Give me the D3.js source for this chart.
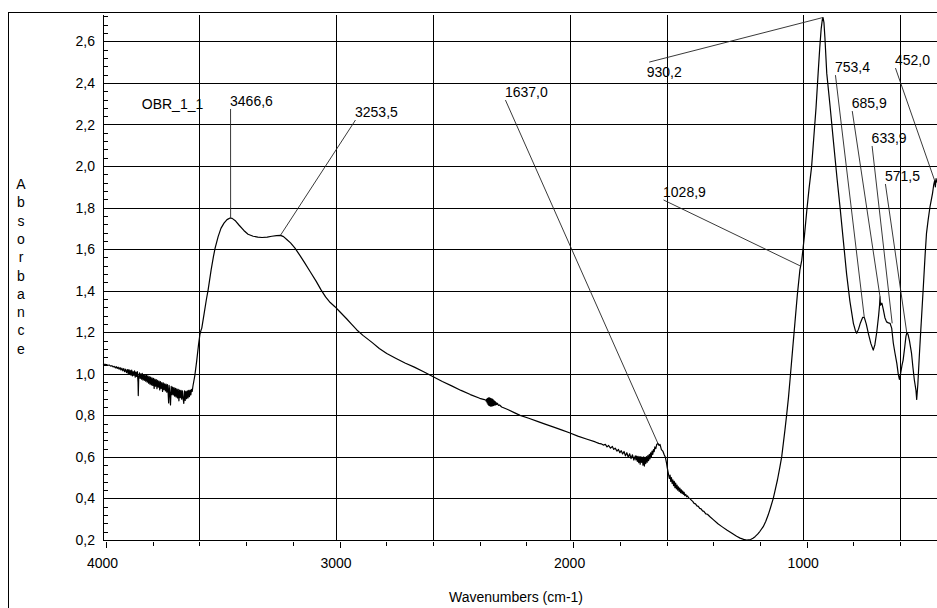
<!DOCTYPE html>
<html>
<head>
<meta charset="utf-8">
<script src="https://cdn.jsdelivr.net/npm/d3@7"></script>
<style>
body{margin:0;background:#fff;}
svg{display:block;}
text{font-family:Arial,"Liberation Sans",sans-serif;fill:#000;}
</style>
</head>
<body>
<div id="container"></div>
<script>
// spectrum: [wavenumber, absorbance]
const spectrum = [
[4013,1.048],[4005,1.045],[3998,1.044],[3992,1.041],[3986,1.042],[3980,1.037],[3975,1.039],[3970,1.033],
[3965,1.036],[3960,1.029],[3956,1.034],[3952,1.026],[3948,1.032],[3944,1.022],[3940,1.030],[3936,1.018],
[3932,1.027],[3928,1.014],[3924,1.025],[3920,1.010],[3916,1.022],[3912,1.006],[3908,1.020],[3905,1.000],
[3902,1.020],[3899,0.998],[3896,1.016],[3893,0.994],[3890,1.018],[3887,0.990],[3884,1.010],[3881,0.992],
[3878,1.014],[3875,0.984],[3872,1.008],[3869,0.988],[3866,1.010],[3863,0.960],[3862,0.895],[3860,0.985],
[3857,1.004],[3854,0.978],[3851,1.000],[3848,0.974],[3845,1.002],[3842,0.970],[3839,0.996],[3836,0.968],
[3833,0.994],[3830,0.964],[3827,0.992],[3824,0.960],[3821,0.990],[3818,0.955],[3815,0.986],[3812,0.950],
[3809,0.984],[3806,0.946],[3803,0.980],[3800,0.944],[3797,0.978],[3794,0.930],[3791,0.975],[3788,0.940],
[3785,0.972],[3782,0.928],[3779,0.968],[3776,0.936],[3773,0.965],[3770,0.922],[3767,0.962],[3764,0.930],
[3761,0.958],[3758,0.915],[3755,0.956],[3752,0.924],[3749,0.952],[3746,0.918],[3743,0.950],[3740,0.912],
[3737,0.948],[3734,0.905],[3732,0.860],[3730,0.944],[3727,0.908],[3724,0.850],[3721,0.940],[3718,0.900],
[3715,0.936],[3712,0.898],[3709,0.934],[3706,0.892],[3703,0.930],[3700,0.888],[3697,0.928],[3694,0.884],
[3691,0.925],[3688,0.870],[3685,0.922],[3682,0.885],[3679,0.920],[3676,0.878],[3673,0.918],[3670,0.880],
[3667,0.858],[3664,0.918],[3661,0.872],[3658,0.916],[3655,0.880],[3652,0.918],[3649,0.884],[3646,0.920],
[3643,0.890],[3640,0.922],[3637,0.898],[3634,0.925],[3631,0.915],[3628,0.940],[3620,0.990],[3612,1.060],
[3604,1.140],[3598,1.190],[3593,1.211],[3590,1.220],[3580,1.290],[3570,1.360],[3563,1.403],[3550,1.500],
[3540,1.565],[3533,1.605],[3520,1.660],[3508,1.700],[3495,1.725],[3482,1.742],[3469,1.750],[3460,1.748],
[3445,1.735],[3430,1.715],[3410,1.690],[3392,1.672],[3370,1.662],[3350,1.658],[3332,1.656],[3310,1.658],
[3290,1.662],[3270,1.665],[3253,1.666],[3240,1.660],[3225,1.645],[3210,1.630],[3191,1.605],[3170,1.570],
[3150,1.535],[3125,1.490],[3100,1.445],[3080,1.405],[3060,1.370],[3040,1.343],[3020,1.323],[3000,1.300],
[2970,1.265],[2950,1.240],[2926,1.211],[2900,1.185],[2860,1.150],[2830,1.122],[2798,1.098],[2760,1.075],
[2720,1.052],[2680,1.032],[2640,1.010],[2599,0.986],[2560,0.963],[2520,0.942],[2480,0.920],[2440,0.900],
[2400,0.882],[2380,0.876],[2374,0.874],[2372,0.868],[2370,0.878],[2368,0.860],[2366,0.882],[2364,0.852],
[2362,0.884],[2360,0.848],[2358,0.884],[2356,0.846],[2354,0.882],[2352,0.844],[2350,0.880],[2348,0.846],
[2346,0.878],[2344,0.846],[2342,0.874],[2340,0.848],[2338,0.870],[2336,0.850],[2334,0.866],[2332,0.850],
[2330,0.862],[2327,0.852],[2324,0.858],[2320,0.848],[2315,0.850],[2306,0.840],[2280,0.828],[2250,0.812],
[2227,0.800],[2190,0.786],[2150,0.770],[2120,0.758],[2080,0.742],[2050,0.730],[2016,0.716],[1980,0.700],
[1940,0.685],[1905,0.672],[1890,0.665],[1880,0.663],[1871,0.657],[1862,0.660],[1855,0.648],[1848,0.655],
[1840,0.642],[1832,0.650],[1826,0.636],[1820,0.642],[1812,0.628],[1806,0.636],[1800,0.620],[1794,0.630],
[1788,0.614],[1782,0.626],[1776,0.605],[1770,0.620],[1764,0.598],[1758,0.615],[1752,0.592],[1746,0.610],
[1740,0.585],[1734,0.605],[1731,0.585],[1728,0.604],[1725,0.578],[1722,0.603],[1719,0.572],[1716,0.600],
[1713,0.565],[1710,0.602],[1707,0.574],[1704,0.598],[1701,0.560],[1698,0.600],[1695,0.556],[1692,0.598],
[1689,0.568],[1686,0.602],[1683,0.574],[1680,0.606],[1677,0.582],[1674,0.612],[1671,0.590],[1668,0.620],
[1665,0.600],[1662,0.628],[1659,0.612],[1656,0.635],[1653,0.625],[1650,0.648],[1646,0.640],[1642,0.660],
[1637,0.665],[1632,0.655],[1628,0.660],[1622,0.635],[1616,0.628],[1610,0.610],[1605,0.598],[1600,0.570],
[1597,0.548],[1594,0.530],[1591,0.512],[1588,0.496],[1585,0.512],[1582,0.482],[1579,0.500],[1576,0.472],
[1573,0.490],[1570,0.462],[1567,0.482],[1564,0.452],[1561,0.474],[1558,0.446],[1555,0.464],[1552,0.440],
[1549,0.456],[1546,0.434],[1543,0.450],[1540,0.428],[1537,0.442],[1534,0.424],[1531,0.436],[1528,0.420],
[1525,0.430],[1522,0.414],[1518,0.420],[1514,0.408],[1510,0.412],[1505,0.402],[1500,0.400],[1494,0.392],
[1488,0.386],[1482,0.376],[1476,0.374],[1470,0.364],[1464,0.362],[1458,0.352],[1452,0.350],[1446,0.340],
[1440,0.338],[1432,0.326],[1425,0.324],[1414,0.312],[1400,0.298],[1380,0.278],[1360,0.262],[1342,0.248],
[1320,0.232],[1300,0.218],[1285,0.209],[1270,0.203],[1257,0.200],[1240,0.202],[1230,0.208],[1221,0.216],
[1210,0.228],[1200,0.242],[1186,0.264],[1175,0.290],[1165,0.320],[1155,0.355],[1143,0.400],[1135,0.440],
[1125,0.490],[1115,0.550],[1107,0.600],[1100,0.665],[1093,0.730],[1086,0.800],[1078,0.885],[1071,0.975],
[1060,1.120],[1050,1.250],[1040,1.380],[1029,1.500],[1021,1.547],[1010,1.660],[1000,1.780],[990,1.890],
[979,1.996],[970,2.130],[960,2.280],[951,2.446],[944,2.570],[938,2.660],[933,2.705],[930,2.715],
[926,2.690],[922,2.620],[914,2.446],[900,2.290],[886,2.125],[870,1.940],[857,1.800],[843,1.640],
[829,1.480],[815,1.350],[800,1.243],[792,1.210],[786,1.195],[778,1.215],[770,1.245],[760,1.272],
[753,1.270],[745,1.240],[735,1.190],[725,1.145],[715,1.114],[708,1.140],[700,1.200],[692,1.280],
[688,1.330],[686,1.370],[684,1.330],[678,1.340],[672,1.310],[665,1.270],[658,1.250],[650,1.245],
[643,1.243],[636,1.220],[629,1.147],[622,1.100],[614,1.050],[608,1.000],[603,0.973],[598,1.000],
[592,1.040],[587,1.066],[580,1.130],[575,1.180],[571,1.198],[566,1.190],[560,1.160],[551,1.098],
[545,1.030],[539,0.970],[532,0.920],[529,0.877],[524,0.950],[518,1.080],[513,1.180],[508,1.275],
[500,1.430],[493,1.570],[487,1.676],[480,1.740],[472,1.804],[466,1.840],[461,1.870],[456,1.910],
[452,1.930],[449,1.900],[446,1.940],[443,1.920]
];

// peak annotations
const peakLabels = ["3466,6","3253,5","1637,0","1028,9","930,2","753,4","685,9","633,9","571,5","452,0"];
const peakWave = [3466.6, 3253.5, 1637.0, 1028.9, 930.2, 753.4, 685.9, 633.9, 571.5, 452.0];
const peakAbs = [1.75, 1.666, 0.665, 1.52, 2.715, 1.272, 1.37, 1.243, 1.198, 1.93];
// where each label sits, in data units (wavenumber, absorbance)
const labelWave = [3469, 2934, 2292, 1615, 1685, 879, 807, 722, 665, 622];
const labelAbs = [2.289, 2.236, 2.332, 1.851, 2.428, 2.452, 2.279, 2.111, 1.928, 2.486];
const leaderFromTop = [false, false, false, false, true, false, false, false, false, false];

const sampleName = "OBR_1_1";
const sampleAt = [3847, 2.274];

// axes
const xTicks = d3.range(4000, 500, -200);
const xTickLabels = [4000, 3000, 2000, 1000];
const xGrid = [3600, 3015, 2600, 2015, 1600, 1015, 600];
const yTicks = d3.range(0.2, 2.61, 0.2);
const yMinor = d3.range(0.2, 2.73, 0.04);
const yTitle = "Absorbance";
const xTitle = "Wavenumbers (cm-1)";

const width = 937, height = 608;

const svg = d3.select("#container").append("svg")
  .attr("width", width)
  .attr("height", height);

const x = d3.scaleLinear().domain([4013, 442]).range([103, 937]);
const y = d3.scaleLinear().domain([0.2, 2.727]).range([540, 15]);
const fmt = v => d3.format(".1f")(v).replace(".", ",");

// outer frame
svg.append("rect")
  .attr("x", 8.5).attr("y", 12.5)
  .attr("width", 950).attr("height", 620)
  .attr("fill", "none").attr("stroke", "#000");

const grid = svg.append("g").attr("stroke", "#000").attr("stroke-width", 1).attr("shape-rendering", "crispEdges");

grid.selectAll(".hg").data(yTicks.slice(1))
  .join("line")
  .attr("x1", x.range()[0]).attr("x2", x.range()[1])
  .attr("y1", d => Math.round(y(d)) + 0.5).attr("y2", d => Math.round(y(d)) + 0.5);

grid.selectAll(".vg").data(xGrid)
  .join("line")
  .attr("x1", d => Math.round(x(d)) + 0.5).attr("x2", d => Math.round(x(d)) + 0.5)
  .attr("y1", y.range()[1]).attr("y2", y.range()[0]);

// axis lines
grid.append("line").attr("x1", 103.5).attr("x2", 103.5).attr("y1", 15).attr("y2", 540.5);
grid.append("line").attr("x1", 103).attr("x2", 937).attr("y1", 540.5).attr("y2", 540.5);

// y minor ticks (inside)
grid.selectAll(".ym").data(yMinor)
  .join("line")
  .attr("x1", 103).attr("x2", 108)
  .attr("y1", d => Math.round(y(d)) + 0.5).attr("y2", d => Math.round(y(d)) + 0.5);

// x ticks (below)
grid.selectAll(".xt").data(xTicks)
  .join("line")
  .attr("x1", d => Math.round(x(d)) + 0.5).attr("x2", d => Math.round(x(d)) + 0.5)
  .attr("y1", 542).attr("y2", d => xTickLabels.includes(d) ? 548 : 546);

// tick labels
svg.append("g").selectAll("text").data(yTicks)
  .join("text")
  .attr("x", 95).attr("y", d => y(d))
  .attr("dy", "0.36em")
  .attr("text-anchor", "end")
  .attr("font-size", 14)
  .text(fmt);

svg.append("g").selectAll("text").data(xTickLabels)
  .join("text")
  .attr("x", d => x(d) - 3.5).attr("y", 568)
  .attr("text-anchor", "middle")
  .attr("font-size", 14)
  .text(d => d);

svg.append("text")
  .attr("x", 516).attr("y", 602)
  .attr("text-anchor", "middle")
  .attr("font-size", 14)
  .text(xTitle);

// vertical stacked y title
svg.append("g").selectAll("text").data(yTitle.split(""))
  .join("text")
  .attr("x", 21).attr("y", (d, i) => 189 + i * 18.3)
  .attr("text-anchor", "middle")
  .attr("font-size", 14)
  .text(d => d);

// spectrum
svg.append("path")
  .datum(spectrum)
  .attr("fill", "none")
  .attr("stroke", "#000")
  .attr("stroke-width", 1.2)
  .attr("stroke-linejoin", "round")
  .attr("d", d3.line().x(d => x(d[0])).y(d => y(d[1])));

// annotations
const ann = svg.append("g");
peakLabels.forEach((lab, i) => {
  const lx = x(labelWave[i]), ly = y(labelAbs[i]);
  const sx = leaderFromTop[i] ? lx + 2.5 : lx + 0.5;
  const sy = leaderFromTop[i] ? ly - 15 : ly + 3;
  ann.append("line")
    .attr("x1", sx).attr("y1", sy)
    .attr("x2", x(peakWave[i])).attr("y2", y(peakAbs[i]))
    .attr("stroke", "#222").attr("stroke-width", 0.9);
  ann.append("text")
    .attr("x", lx).attr("y", ly)
    .attr("font-size", 14)
    .text(lab);
});

svg.append("text")
  .attr("x", x(sampleAt[0])).attr("y", y(sampleAt[1]))
  .attr("font-size", 14)
  .text(sampleName);
</script>
</body>
</html>
